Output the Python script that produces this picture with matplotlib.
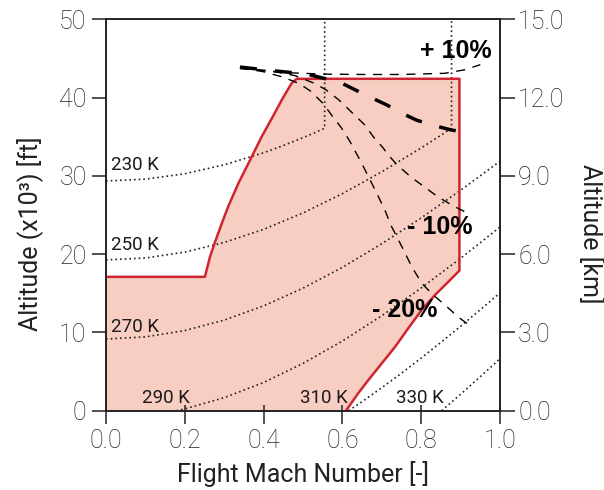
import matplotlib
matplotlib.use("Agg")
import matplotlib.pyplot as plt

plt.rcParams["font.family"] = ["Roboto", "DejaVu Sans"]
plt.rcParams["font.weight"] = "light"

# Flight envelope boundary (Mach, altitude in 1000 ft)
env_mach = [0.0, 0.251, 0.264, 0.277, 0.294, 0.310, 0.336, 0.370, 0.395,
            0.421, 0.446, 0.471, 0.484, 0.897, 0.897, 0.869, 0.835, 0.801,
            0.767, 0.734, 0.700, 0.666, 0.640, 0.609]
env_alt = [17.1, 17.1, 19.67, 21.59, 23.94, 26.06, 29.05, 32.45, 35.0,
           37.35, 39.69, 41.82, 42.4, 42.4, 17.9, 16.48, 14.78, 12.86,
           10.52, 8.18, 6.05, 3.92, 2.22, 0.0]

# Total-temperature isolines
t230_mach = [0.0, 0.1, 0.2, 0.3, 0.4, 0.45, 0.5, 0.53, 0.555, 0.555]
t230_alt = [29.35, 29.58, 30.27, 31.41, 32.95, 33.87, 34.88, 35.52, 36.09, 50.0]
t250_mach = [0.0, 0.1, 0.2, 0.3, 0.4, 0.5, 0.6, 0.7, 0.8, 0.85, 0.877, 0.877]
t250_alt = [19.26, 19.51, 20.26, 21.49, 23.17, 25.26, 27.73, 30.52, 33.57, 35.19, 36.09, 50.0]
t270_mach = [0.0, 0.1, 0.2, 0.3, 0.4, 0.5, 0.6, 0.7, 0.8, 0.9, 1.0]
t270_alt = [9.16, 9.43, 10.24, 11.57, 13.39, 15.65, 18.31, 21.33, 24.63, 28.16, 31.87]
t290_mach = [0.179, 0.2, 0.3, 0.4, 0.5, 0.6, 0.7, 0.8, 0.9, 1.0]
t290_alt = [0.0, 0.23, 1.66, 3.60, 6.04, 8.90, 12.13, 15.68, 19.47, 23.46]
t310_mach = [0.616, 0.65, 0.7, 0.75, 0.8, 0.85, 0.9, 0.95, 1.0]
t310_alt = [0.0, 1.16, 2.94, 4.79, 6.73, 8.73, 10.79, 12.90, 15.05]
t330_mach = [0.852, 0.9, 0.95, 1.0]
t330_alt = [0.0, 2.10, 4.35, 6.64]

isotherms = [
    (t230_mach, t230_alt, "230 K", 0.013, 31.4, "left"),
    (t250_mach, t250_alt, "250 K", 0.013, 21.2, "left"),
    (t270_mach, t270_alt, "270 K", 0.013, 10.7, "left"),
    (t290_mach, t290_alt, "290 K", 0.153, 1.6, "center"),
    (t310_mach, t310_alt, "310 K", 0.552, 1.6, "center"),
    (t330_mach, t330_alt, "330 K", 0.797, 1.6, "center"),
]

# Thrust-variation lines
base_mach = [0.34, 0.43, 0.51, 0.55, 0.596, 0.632, 0.675, 0.713, 0.751,
             0.789, 0.835, 0.873, 0.93]
base_alt = [43.9, 43.4, 43.0, 42.5, 41.9, 41.0, 39.95, 39.05, 38.0,
            37.1, 36.4, 35.9, 35.35]
plus10_mach = [0.34, 0.45, 0.55, 0.65, 0.75, 0.86, 0.91, 0.95]
plus10_alt = [43.7, 43.2, 43.0, 42.95, 42.95, 43.1, 43.55, 44.2]
minus10_mach = [0.34, 0.42, 0.48, 0.53, 0.558, 0.591, 0.622, 0.655, 0.680,
                0.703, 0.716, 0.739, 0.774, 0.843, 0.88, 0.919]
minus10_alt = [43.8, 43.4, 42.8, 41.8, 41.0, 39.7, 38.2, 36.6, 34.9,
               33.6, 32.7, 31.4, 29.85, 27.3, 26.2, 25.2]
minus20_mach = [0.34, 0.40, 0.45, 0.49, 0.52, 0.55, 0.575, 0.598, 0.619,
                0.649, 0.683, 0.708, 0.725, 0.751, 0.776, 0.801, 0.83,
                0.865, 0.893, 0.931]
minus20_alt = [43.8, 43.3, 42.6, 41.8, 40.8, 39.3, 37.6, 36.1, 34.4,
               31.6, 28.2, 25.6, 23.5, 20.95, 18.4, 16.3, 14.8,
               13.3, 12.0, 10.6]

pct_labels = [("+ 10%", 0.888, 45.95), ("- 10%", 0.848, 23.46), ("- 20%", 0.757, 12.9)]

x_ticks = [0.0, 0.2, 0.4, 0.6, 0.8, 1.0]
y_ticks = [0, 10, 20, 30, 40, 50]
km_ticks = [0.0, 3.0, 6.0, 9.0, 12.0, 15.0]

ink = "#222222"
red = "#d02530"
fill = "#f8cec2"

fig = plt.figure(figsize=(6.04, 4.90), dpi=100)
ax = fig.add_axes([106 / 604, 1 - 410.7 / 490, 394 / 604, 391.4 / 490])

# envelope
ax.fill(env_mach + [0.0], env_alt + [0.0], color=fill, lw=0, zorder=1)
ax.plot(env_mach, env_alt, color=red, lw=1.8, zorder=4, solid_joinstyle="round")

# isotherms
for m, h, lab, lx, ly, ha in isotherms:
    ax.plot(m, h, color=ink, lw=1.2, linestyle=(0, (1, 1.8)), zorder=3)
    ax.text(lx, ly, lab, fontsize=13.5, fontweight="normal", color="#1a1a1a",
            ha=ha, va="center", zorder=6)

# thrust lines
ax.plot(base_mach, base_alt, color="black", lw=2.5, linestyle=(0, (4.9, 5.2)), zorder=5)
for m, h in [(plus10_mach, plus10_alt), (minus10_mach, minus10_alt),
             (minus20_mach, minus20_alt)]:
    ax.plot(m, h, color="black", lw=1.0, linestyle=(0, (6.5, 5.5)), zorder=5)

for lab, lx, ly in pct_labels:
    ax.text(lx, ly, lab, fontsize=18, fontweight="bold", color="black",
            family=["Liberation Sans", "DejaVu Sans"], ha="center", va="center", zorder=7)

ax.set_xlim(0, 1.0)
ax.set_ylim(0, 50)
ax.set_xticks(x_ticks)
ax.set_xticklabels([f"{v:.1f}" for v in x_ticks])
ax.set_yticks(y_ticks)
ax.xaxis.remove_overlapping_locs = False
ax.set_xticks(x_ticks, minor=True)
ax.tick_params(axis="x", which="major", direction="out", length=9, width=1.1,
               color=ink, labelsize=18, labelcolor=ink, pad=4)
ax.tick_params(axis="x", which="minor", direction="in", length=4, width=1.1, color=ink)
ax.tick_params(axis="y", direction="out", length=10, width=1.1, color=ink,
               labelsize=18, labelcolor=ink, pad=4)

for s in ax.spines.values():
    s.set_color(ink)
    s.set_linewidth(1.2)

ax.set_xlabel("Flight Mach Number [-]", fontsize=18, color=ink, labelpad=6)
ax.set_ylabel("Altitude (x10³) [ft]", fontsize=18, color=ink)
ax.yaxis.set_label_coords(-0.16, 0.451)

ax2 = ax.twinx()
ax2.set_ylim(0, 15)
ax2.set_yticks(km_ticks)
ax2.set_yticklabels([f"{v:.1f}" for v in km_ticks])
ax2.tick_params(axis="y", direction="out", length=11, width=1.1, color=ink,
                labelsize=18, labelcolor=ink, pad=2)
for s in ax2.spines.values():
    s.set_color(ink)
    s.set_linewidth(1.2)
ax2.set_ylabel("Altitude [km]", fontsize=18, color=ink, rotation=270, va="center")
ax2.yaxis.set_label_coords(1.23, 0.451)

fig.savefig("out.png", dpi=100)
